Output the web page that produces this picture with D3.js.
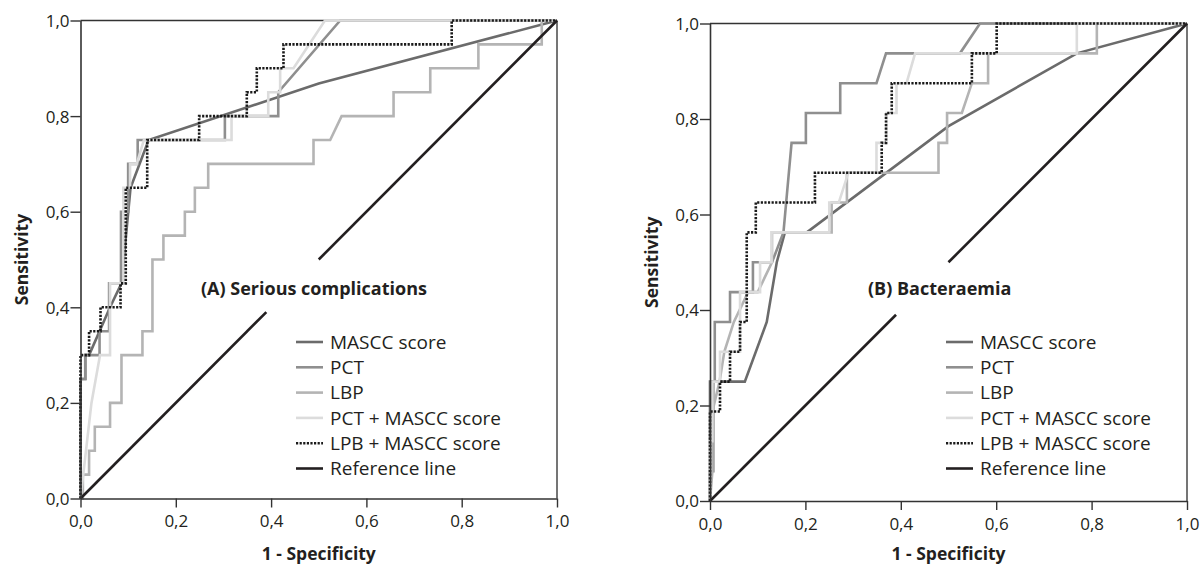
<!DOCTYPE html>
<html><head><meta charset="utf-8">
<script src="https://cdn.jsdelivr.net/npm/d3@7"></script>
<style>
body{margin:0;background:#fff}
svg{display:block}
text{font-family:'Open Sans',sans-serif;fill:#231f20}
</style>
</head><body>
<svg id="chart" width="1203" height="565"></svg>
<script>
// ---------- data ----------
const seriesNames = ["MASCC score","PCT","LBP","PCT + MASCC score","LPB + MASCC score","Reference line"];
const tickValues = [0,0.2,0.4,0.6,0.8,1.0];
const tickLabels = ["0,0","0,2","0,4","0,6","0,8","1,0"];
const panelTitles = ["(A) Serious complications","(B) Bacteraemia"];
const xAxisTitle = "1 - Specificity";
const yAxisTitle = "Sensitivity";

// Panel A (1 - specificity, sensitivity)
const A_mascc = [[0,0],[0,0.25],[0.01,0.25],[0.01,0.3],[0.018,0.3],[0.062,0.4],[0.086,0.45],[0.105,0.65],[0.143,0.75],[0.5,0.868],[1,1]];
const A_pct = [[0,0],[0,0.25],[0.01,0.25],[0.01,0.3],[0.04,0.3],[0.04,0.35],[0.06,0.35],[0.06,0.45],[0.085,0.45],[0.085,0.6],[0.1,0.6],[0.1,0.7],[0.12,0.7],[0.12,0.75],[0.303,0.75],[0.303,0.8],[0.415,0.8],[0.415,0.85],[0.545,1],[1,1]];
const A_lbp = [[0,0],[0.005,0],[0.005,0.05],[0.018,0.05],[0.018,0.1],[0.03,0.1],[0.03,0.15],[0.062,0.15],[0.062,0.2],[0.086,0.2],[0.086,0.3],[0.13,0.3],[0.13,0.35],[0.151,0.35],[0.151,0.5],[0.174,0.5],[0.174,0.55],[0.219,0.55],[0.219,0.6],[0.24,0.6],[0.24,0.65],[0.268,0.65],[0.268,0.7],[0.489,0.7],[0.489,0.75],[0.524,0.75],[0.548,0.8],[0.657,0.8],[0.657,0.85],[0.734,0.85],[0.734,0.9],[0.835,0.9],[0.835,0.95],[0.968,0.95],[0.968,1],[1,1]];
const A_pctMascc = [[0,0],[0.023,0.2],[0.041,0.3],[0.062,0.3],[0.062,0.45],[0.09,0.45],[0.09,0.65],[0.104,0.65],[0.104,0.7],[0.118,0.7],[0.133,0.75],[0.317,0.75],[0.317,0.8],[0.394,0.8],[0.394,0.85],[0.419,0.85],[0.419,0.9],[0.447,0.9],[0.513,1],[1,1]];
const A_lpbMascc = [[0,0],[0,0.3],[0.018,0.3],[0.018,0.35],[0.042,0.35],[0.042,0.4],[0.084,0.4],[0.084,0.45],[0.095,0.45],[0.095,0.65],[0.14,0.65],[0.14,0.75],[0.249,0.75],[0.249,0.8],[0.349,0.8],[0.349,0.85],[0.37,0.85],[0.37,0.9],[0.426,0.9],[0.426,0.95],[0.779,0.95],[0.779,1],[1,1]];
const A_reference = [[[0,0],[0.39,0.39]],[[0.5,0.5],[1,1]]];

// Panel B
const B_mascc = [[0,0],[0,0.25],[0.073,0.25],[0.119,0.375],[0.14,0.5],[0.157,0.5625],[0.203,0.5625],[0.5,0.785],[0.769,0.9375],[1,1]];
const B_pct = [[0,0],[0,0.0625],[0.007,0.0625],[0.007,0.25],[0.01,0.25],[0.01,0.375],[0.042,0.375],[0.042,0.4375],[0.09,0.4375],[0.09,0.5],[0.13,0.5],[0.154,0.5625],[0.171,0.75],[0.201,0.75],[0.201,0.8125],[0.273,0.8125],[0.273,0.875],[0.349,0.875],[0.369,0.9375],[0.524,0.9375],[0.566,1],[1,1]];
const B_lbp = [[0,0],[0.005,0.0625],[0.005,0.1875],[0.02,0.25],[0.03,0.3125],[0.05,0.375],[0.08,0.4375],[0.1,0.4375],[0.13,0.5],[0.13,0.5625],[0.255,0.5625],[0.255,0.625],[0.287,0.625],[0.287,0.6875],[0.479,0.6875],[0.479,0.75],[0.497,0.75],[0.497,0.8125],[0.528,0.8125],[0.549,0.875],[0.583,0.875],[0.583,0.9375],[0.811,0.9375],[0.811,1],[1,1]];
const B_pctMascc = [[0,0],[0,0.125],[0.005,0.125],[0.005,0.25],[0.021,0.25],[0.021,0.3125],[0.063,0.3125],[0.063,0.4375],[0.105,0.4375],[0.105,0.5],[0.129,0.5],[0.129,0.5625],[0.25,0.5625],[0.25,0.625],[0.27,0.625],[0.29,0.6875],[0.349,0.6875],[0.349,0.75],[0.37,0.75],[0.37,0.8125],[0.391,0.8125],[0.391,0.875],[0.412,0.875],[0.43,0.9375],[0.769,0.9375],[0.769,1],[1,1]];
const B_lpbMascc = [[0,0],[0,0.1875],[0.021,0.1875],[0.021,0.25],[0.042,0.25],[0.042,0.3125],[0.063,0.3125],[0.063,0.375],[0.077,0.375],[0.077,0.5625],[0.096,0.5625],[0.096,0.625],[0.22,0.625],[0.22,0.6875],[0.36,0.6875],[0.36,0.75],[0.369,0.75],[0.369,0.8125],[0.381,0.8125],[0.381,0.875],[0.549,0.875],[0.549,0.9375],[0.601,0.9375],[0.601,1],[1,1]];
const B_reference = [[[0,0],[0.39,0.39]],[[0.5,0.5],[1,1]]];

// ---------- styling / layout ----------
const seriesStyle = [
  {color:"#6b6b6b", width:2.6, dash:null},
  {color:"#8f8f8f", width:2.6, dash:null},
  {color:"#b4b4b4", width:2.6, dash:null},
  {color:"#dcdcdc", width:2.6, dash:null},
  {color:"#1a1a1a", width:2.6, dash:"2.2,1.4"},
  {color:"#231f20", width:2.6, dash:null}
];
const panels = [
  {x0:80.5, x1:557, y0:498.5, y1:20.5, series:[A_mascc,A_pct,A_lbp,A_pctMascc,A_lpbMascc], ref:A_reference,
   title:{x:201,y:295}, legend:{x:296,y:342}, ylab:{x:22}},
  {x0:710, x1:1187, y0:501, y1:23.5, series:[B_mascc,B_pct,B_lbp,B_pctMascc,B_lpbMascc], ref:B_reference,
   title:{x:868,y:295}, legend:{x:946,y:342}, ylab:{x:652}}
];

const svg = d3.select("#chart");
panels.forEach((p,pi)=>{
  const x = d3.scaleLinear().domain([0,1]).range([p.x0,p.x1]);
  const y = d3.scaleLinear().domain([0,1]).range([p.y0,p.y1]);
  const g = svg.append("g");

  // frame top/right
  g.append("line").attr("x1",p.x0).attr("x2",p.x1).attr("y1",p.y1).attr("y2",p.y1).attr("stroke","#333").attr("stroke-width",1.4);
  g.append("line").attr("x1",p.x1).attr("x2",p.x1).attr("y1",p.y1).attr("y2",p.y0).attr("stroke","#666").attr("stroke-width",1.8);

  const line = d3.line().x(d=>x(d[0])).y(d=>y(d[1]));
  p.series.forEach((s,i)=>{
    const st = seriesStyle[i];
    g.append("path").attr("d",line(s)).attr("fill","none").attr("stroke",st.color)
      .attr("stroke-width",st.width).attr("stroke-dasharray",st.dash).attr("stroke-linejoin","miter");
  });
  p.ref.forEach(seg=>{
    g.append("path").attr("d",line(seg)).attr("fill","none").attr("stroke",seriesStyle[5].color).attr("stroke-width",seriesStyle[5].width);
  });

  // axes
  const xa = g.append("g").attr("transform",`translate(0,${p.y0})`)
    .call(d3.axisBottom(x).tickValues(tickValues).tickFormat((d,i)=>tickLabels[i]).tickSize(9).tickSizeOuter(0));
  const ya = g.append("g").attr("transform",`translate(${p.x0},0)`)
    .call(d3.axisLeft(y).tickValues(tickValues).tickFormat((d,i)=>tickLabels[i]).tickSize(10).tickSizeOuter(0));
  [xa,ya].forEach(a=>{
    a.select(".domain").attr("stroke","#333").attr("stroke-width",1.6);
    a.selectAll(".tick line").attr("stroke","#333").attr("stroke-width",1.4);
    a.selectAll(".tick text").attr("font-size",17).attr("font-family","'Open Sans',sans-serif").attr("fill","#231f20");
  });
  xa.selectAll(".tick text").attr("dy",null).attr("y",28.5);
  ya.selectAll(".tick text").attr("x",-11).attr("dy","0.35em");

  // titles
  g.append("text").attr("x",p.title.x).attr("y",p.title.y).attr("font-size",18).attr("font-weight","bold").text(panelTitles[pi]);
  g.append("text").attr("x",(p.x0+p.x1)/2).attr("y",560).attr("text-anchor","middle").attr("font-size",17.5).attr("font-weight","bold").text(xAxisTitle);
  g.append("text").attr("transform",`translate(${p.ylab.x},${(p.y0+p.y1)/2}) rotate(-90)`).attr("text-anchor","middle")
    .attr("dy","0.35em").attr("font-size",17.5).attr("font-weight","bold").text(yAxisTitle);

  // legend
  seriesNames.forEach((n,i)=>{
    const yy = p.legend.y + i*25.3;
    const st = seriesStyle[i];
    g.append("line").attr("x1",p.legend.x).attr("x2",p.legend.x+27).attr("y1",yy).attr("y2",yy)
      .attr("stroke",st.color).attr("stroke-width",st.width).attr("stroke-dasharray",st.dash);
    g.append("text").attr("x",p.legend.x+34).attr("y",yy).attr("dy","0.36em").attr("font-size",19).text(n);
  });
});
</script>
</body></html>
